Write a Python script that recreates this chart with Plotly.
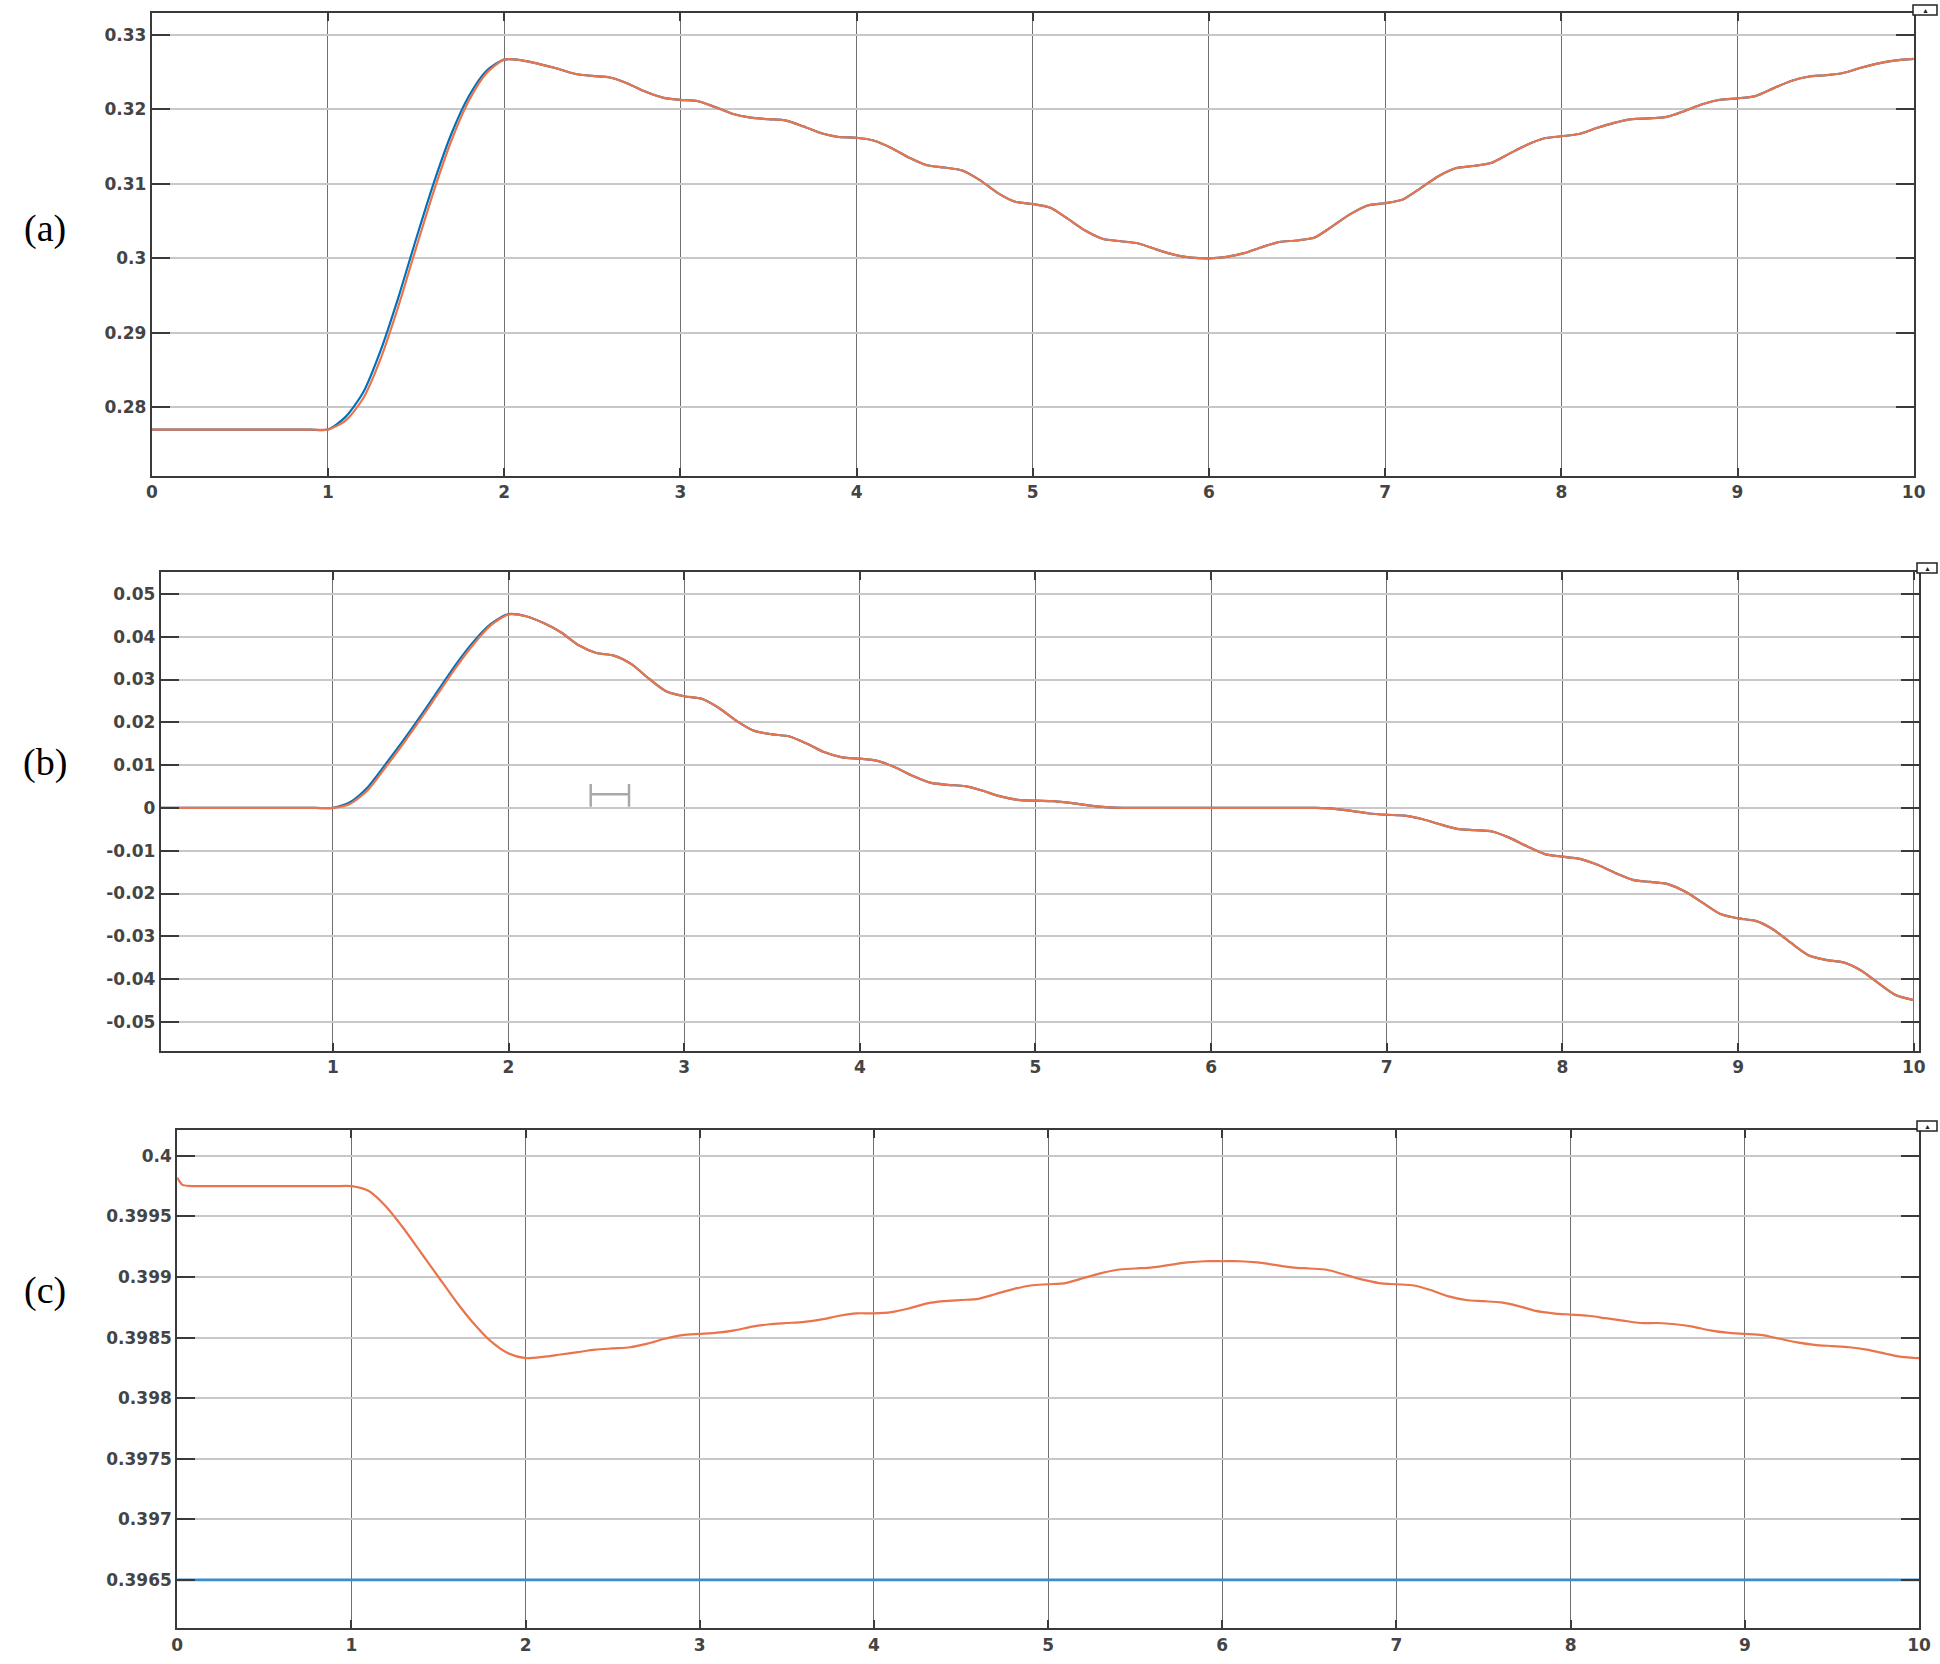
import plotly.graph_objects as go

# ---------------- data ----------------
T = [round(0.1 * i, 1) for i in range(101)]          # 0.0 .. 10.0 s

# panel (a)
a_flat = [0.2770] * 11                                # t = 0.0 .. 1.0
a_orange_rise = [0.2782, 0.2812, 0.2866, 0.2936, 0.3014, 0.3090, 0.3158, 0.3212, 0.3249, 0.3267]
a_blue_rise = [0.2787, 0.2820, 0.2877, 0.2948, 0.3026, 0.3101, 0.3167, 0.3218, 0.3252, 0.3267]
a_tail = [0.3266, 0.3261, 0.3255, 0.3248, 0.3245, 0.3243, 0.3235, 0.3224, 0.3216, 0.3213,
          0.3211, 0.3203, 0.3194, 0.3189, 0.3187, 0.3185, 0.3177, 0.3168, 0.3163, 0.3162,
          0.3158, 0.3148, 0.3135, 0.3125, 0.3122, 0.3118, 0.3105, 0.3088, 0.3076, 0.3073,
          0.3068, 0.3053, 0.3037, 0.3026, 0.3023, 0.3020, 0.3012, 0.3005, 0.3001, 0.3000,
          0.3002, 0.3007, 0.3015, 0.3022, 0.3024, 0.3028, 0.3043, 0.3059, 0.3071, 0.3074,
          0.3079, 0.3094, 0.3110, 0.3121, 0.3124, 0.3128, 0.3140, 0.3152, 0.3161, 0.3164,
          0.3167, 0.3175, 0.3182, 0.3187, 0.3188, 0.3190, 0.3198, 0.3207, 0.3213, 0.3215,
          0.3218, 0.3228, 0.3238, 0.3244, 0.3246, 0.3249, 0.3256, 0.3262, 0.3266, 0.3268]
a_orange = a_flat + a_orange_rise + a_tail
a_blue = a_flat + a_blue_rise + a_tail

# panel (b)
b_flat = [0.0] * 11
b_orange_rise = [0.0010, 0.0042, 0.0095, 0.0150, 0.0208, 0.0268, 0.0328, 0.0382, 0.0427, 0.0452]
b_blue_rise = [0.0014, 0.0049, 0.0102, 0.0157, 0.0215, 0.0275, 0.0335, 0.0388, 0.0430, 0.0453]
b_tail = [0.0448, 0.0432, 0.0410, 0.0380, 0.0362, 0.0356, 0.0336, 0.0302, 0.0272, 0.0261,
          0.0255, 0.0233, 0.0203, 0.0180, 0.0172, 0.0167, 0.0150, 0.0130, 0.0118, 0.0115,
          0.0110, 0.0095, 0.0075, 0.0059, 0.0054, 0.0051, 0.0040, 0.0027, 0.0019, 0.0017,
          0.0016, 0.0012, 0.0006, 0.0002, 0.0000, 0.0000, 0.0000, 0.0000, 0.0000, 0.0000,
          0.0000, 0.0000, 0.0000, 0.0000, 0.0000, 0.0000, -0.0002, -0.0007, -0.0013, -0.0016,
          -0.0018, -0.0026, -0.0038, -0.0049, -0.0052, -0.0055, -0.0070, -0.0090, -0.0108, -0.0114,
          -0.0119, -0.0133, -0.0152, -0.0168, -0.0173, -0.0178, -0.0196, -0.0222, -0.0248, -0.0258,
          -0.0264, -0.0284, -0.0315, -0.0344, -0.0355, -0.0361, -0.0380, -0.0410, -0.0438, -0.0449]
b_orange = b_flat + b_orange_rise + b_tail
b_blue = b_flat + b_blue_rise + b_tail

# panel (c)
Tc = [0.0, 0.03] + T[1:]
c_start = [0.39982, 0.39976]
c_flat = [0.39975] * 10                               # t = 0.1 .. 1.0
c_drop = [0.39971, 0.39958, 0.39940, 0.39920, 0.39900, 0.39880, 0.39862, 0.39847, 0.39837, 0.39833]
c_tail = [0.39834, 0.39836, 0.39838, 0.39840, 0.39841, 0.39842, 0.39845, 0.39849, 0.39852, 0.39853,
          0.39854, 0.39856, 0.39859, 0.39861, 0.39862, 0.39863, 0.39865, 0.39868, 0.39870, 0.39870,
          0.39871, 0.39874, 0.39878, 0.39880, 0.39881, 0.39882, 0.39886, 0.39890, 0.39893, 0.39894,
          0.39895, 0.39899, 0.39903, 0.39906, 0.39907, 0.39908, 0.39910, 0.39912, 0.39913, 0.39913,
          0.39913, 0.39912, 0.39910, 0.39908, 0.39907, 0.39906, 0.39902, 0.39898, 0.39895, 0.39894,
          0.39893, 0.39889, 0.39884, 0.39881, 0.39880, 0.39879, 0.39876, 0.39872, 0.39870, 0.39869,
          0.39868, 0.39866, 0.39864, 0.39862, 0.39862, 0.39861, 0.39859, 0.39856, 0.39854, 0.39853,
          0.39852, 0.39849, 0.39846, 0.39844, 0.39843, 0.39842, 0.39840, 0.39837, 0.39834, 0.39833]
c_orange = c_start + c_flat + c_drop + c_tail
c_blue = [0.3965] * len(T)

# tick labels
xt_vals = list(range(11))
xt_text = [str(v) for v in xt_vals]
ya_vals = [0.28, 0.29, 0.30, 0.31, 0.32, 0.33]
ya_text = ["0.28", "0.29", "0.3", "0.31", "0.32", "0.33"]
yb_vals = [-0.05, -0.04, -0.03, -0.02, -0.01, 0.0, 0.01, 0.02, 0.03, 0.04, 0.05]
yb_text = ["-0.05", "-0.04", "-0.03", "-0.02", "-0.01", "0", "0.01", "0.02", "0.03", "0.04", "0.05"]
yc_vals = [0.3965, 0.397, 0.3975, 0.398, 0.3985, 0.399, 0.3995, 0.4]
yc_text = ["0.3965", "0.397", "0.3975", "0.398", "0.3985", "0.399", "0.3995", "0.4"]

BLUE = "#0072BD"
ORANGE = "#EA744C"

# ---------------- figure ----------------
fig = go.Figure()
line_kw = dict(shape="spline", smoothing=0.7, width=2.2)

fig.add_trace(go.Scatter(x=T, y=a_blue, mode="lines", line=dict(color=BLUE, **line_kw), xaxis="x", yaxis="y"))
fig.add_trace(go.Scatter(x=T, y=a_orange, mode="lines", line=dict(color=ORANGE, **line_kw), xaxis="x", yaxis="y"))
fig.add_trace(go.Scatter(x=T, y=b_blue, mode="lines", line=dict(color=BLUE, **line_kw), xaxis="x2", yaxis="y2"))
fig.add_trace(go.Scatter(x=T, y=b_orange, mode="lines", line=dict(color=ORANGE, **line_kw), xaxis="x2", yaxis="y2"))
fig.add_trace(go.Scatter(x=T, y=c_blue, mode="lines", line=dict(color="#3A8ED0", width=2.6), xaxis="x3", yaxis="y3"))
fig.add_trace(go.Scatter(x=Tc, y=c_orange, mode="lines", line=dict(color=ORANGE, **line_kw), xaxis="x3", yaxis="y3"))

tickfont = dict(family="DejaVu Sans", size=17, color="#444444", weight="bold")
common = dict(showline=True, linecolor="#3a3a3a", linewidth=2, mirror="ticks",
              ticks="inside", tickcolor="#3a3a3a", tickwidth=2, zeroline=False,
              showgrid=True, tickfont=tickfont, fixedrange=True, automargin=False)
xcommon = dict(common, ticklen=8, gridcolor="#707070", gridwidth=1.1,
               tickvals=xt_vals, ticktext=xt_text)
ycommon = dict(common, ticklen=18, gridcolor="#c8c8c8", gridwidth=2)

fig.update_layout(
    width=1940, height=1664, autosize=False,
    margin=dict(l=0, r=0, t=0, b=0, pad=0, autoexpand=False),
    paper_bgcolor="white", plot_bgcolor="white",
    showlegend=False,
    xaxis=dict(xcommon, domain=[0.07825, 0.98644], range=[0, 10], anchor="y"),
    yaxis=dict(ycommon, domain=[0.71412, 0.99237], range=[0.2708, 0.3330], anchor="x",
               tickvals=ya_vals, ticktext=ya_text),
    xaxis2=dict(xcommon, domain=[0.08284, 0.98918], range=[0.02, 10.03], anchor="y2"),
    yaxis2=dict(ycommon, domain=[0.36839, 0.65643], range=[-0.0568, 0.0552], anchor="x2",
                tickvals=yb_vals, ticktext=yb_text),
    xaxis3=dict(xcommon, domain=[0.09134, 0.98918], range=[0, 10], anchor="y3"),
    yaxis3=dict(ycommon, domain=[0.02145, 0.32067], range=[0.39610, 0.40021], anchor="x3",
                tickvals=yc_vals, ticktext=yc_text),
)

# panel labels
for txt, yp in [("(a)", 229), ("(b)", 762), ("(c)", 1290)]:
    fig.add_annotation(text=txt, x=45 / 1940, y=1 - yp / 1664, xref="paper", yref="paper",
                       showarrow=False, xanchor="center", yanchor="middle",
                       font=dict(family="Liberation Serif", size=38, color="black"))

# small gray bracket marker in panel (b)
bx0, bx1 = 590.7 / 1940, 629 / 1940
by_top, by_bot, by_mid = 1 - 784 / 1664, 1 - 806.7 / 1664, 1 - 794.3 / 1664
for shp in [dict(x0=bx0, x1=bx0, y0=by_bot, y1=by_top),
            dict(x0=bx1, x1=bx1, y0=by_bot, y1=by_top),
            dict(x0=bx0, x1=bx1, y0=by_mid, y1=by_mid)]:
    fig.add_shape(type="line", xref="paper", yref="paper", line=dict(color="#a8a8a8", width=2.5), **shp)

# small restore icons at the top-right corners
for (x0, x1, y0, y1) in [(1913, 1937, 5, 15), (1917, 1937, 563, 573), (1917, 1937, 1121, 1131)]:
    fig.add_shape(type="rect", xref="paper", yref="paper",
                  x0=x0 / 1940, x1=x1 / 1940, y0=1 - y1 / 1664, y1=1 - y0 / 1664,
                  line=dict(color="#222", width=1.5), fillcolor="white")
    fig.add_annotation(text="▲", x=(x0 + x1) / 2 / 1940, y=1 - (y0 + y1) / 2 / 1664,
                       xref="paper", yref="paper", showarrow=False,
                       font=dict(size=7, color="#222"), xanchor="center", yanchor="middle")

fig.write_html("out.html", config={"displayModeBar": False, "responsive": False},
               post_script="document.body.style.margin='0';document.body.style.overflow='hidden';")
